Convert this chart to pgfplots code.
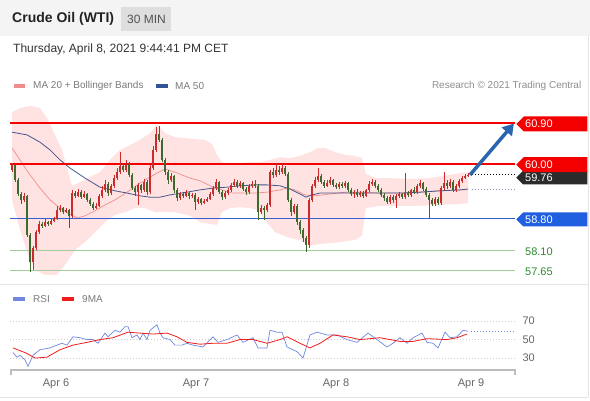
\documentclass[border=0pt]{standalone}
\usepackage{fontspec}
\setmainfont{Liberation Sans}
\usepackage{pgfplots}
\pgfplotsset{compat=1.18}
\usepackage{pgfplotstable}
\usetikzlibrary{shapes.symbols,arrows.meta}
\definecolor{hdrgray}{HTML}{F4F4F4}
\definecolor{boxgray}{HTML}{DEDEDE}
\definecolor{titlec}{HTML}{222222}
\definecolor{datec}{HTML}{333333}
\definecolor{legtext}{HTML}{7A7A7A}
\definecolor{bandpink}{HTML}{FFE3E3}
\definecolor{ma20c}{HTML}{F08C8C}
\definecolor{ma50c}{HTML}{45568C}
\definecolor{ma50leg}{HTML}{2F5597}
\definecolor{upred}{HTML}{CC2B2B}
\definecolor{dngreen}{HTML}{3D6B2F}
\definecolor{lvlred}{HTML}{F50000}
\definecolor{lvlblue}{HTML}{3A5FD0}
\definecolor{tagblue}{HTML}{1F5FE0}
\definecolor{lvlgreen}{HTML}{A3CB9C}
\definecolor{txtgreen}{HTML}{2E8B2E}
\definecolor{tagdark}{HTML}{2B2B2B}
\definecolor{arrowblue}{HTML}{2A65AF}
\definecolor{rsic}{HTML}{7088E0}
\definecolor{mac}{HTML}{F21C1C}
\definecolor{gridc}{HTML}{D2CCCC}
\definecolor{tickc}{HTML}{666666}
\definecolor{axisc}{HTML}{BDBDBD}
\definecolor{borderc}{HTML}{E4E4E4}
\definecolor{dotma}{HTML}{8A94B8}
\newcommand{\fs}[1]{\fontsize{#1}{#1}\selectfont}

\pgfplotstableread{
i o h l c
0 59.87 60.02 59.82 59.98
1 59.98 60.00 59.60 59.65
2 59.65 59.69 59.30 59.34
3 59.34 59.38 59.12 59.21
4 59.21 59.36 59.16 59.30
5 59.30 59.32 58.39 58.44
6 58.44 58.48 57.62 57.84
7 57.84 58.20 57.67 58.15
8 58.15 58.55 58.11 58.50
9 58.50 58.75 58.46 58.68
10 58.68 58.72 58.59 58.64
11 58.64 58.79 58.61 58.72
12 58.72 58.75 58.64 58.68
13 58.68 58.79 58.66 58.75
14 58.75 58.83 58.72 58.79
15 58.79 59.08 58.77 58.99
16 58.99 59.10 58.94 59.03
17 59.03 59.05 58.90 58.94
18 58.94 59.03 58.92 58.99
19 58.99 59.01 58.59 58.86
20 58.86 59.43 58.81 59.36
21 59.36 59.41 59.25 59.30
22 59.30 59.45 59.27 59.38
23 59.38 59.43 59.23 59.27
24 59.27 59.41 59.25 59.34
25 59.34 59.36 59.16 59.21
26 59.21 59.25 59.08 59.12
27 59.12 59.16 58.99 59.03
28 59.03 59.14 59.01 59.08
29 59.08 59.34 59.05 59.30
30 59.30 59.52 59.25 59.43
31 59.43 59.65 59.38 59.56
32 59.56 59.60 59.30 59.36
33 59.36 59.56 59.32 59.52
34 59.52 59.76 59.47 59.69
35 59.69 59.91 59.65 59.82
36 59.82 60.26 59.78 59.96
37 59.96 60.02 59.82 59.87
38 59.87 60.09 59.82 60.00
39 60.00 60.04 59.71 59.76
40 59.76 59.80 59.43 59.47
41 59.47 59.52 59.30 59.38
42 59.38 59.58 59.10 59.54
43 59.54 59.56 59.36 59.43
44 59.43 59.67 59.38 59.60
45 59.60 59.65 59.32 59.38
46 59.38 59.98 59.34 59.91
47 59.91 60.40 59.87 60.31
48 60.31 60.81 60.26 60.66
49 60.66 60.84 60.48 60.53
50 60.53 60.57 60.04 60.09
51 60.09 60.13 59.76 59.82
52 59.82 59.87 59.56 59.65
53 59.65 59.80 59.60 59.74
54 59.74 59.76 59.36 59.43
55 59.43 59.47 59.19 59.25
56 59.25 59.38 59.21 59.34
57 59.34 59.38 59.25 59.30
58 59.30 59.43 59.27 59.36
59 59.36 59.38 59.23 59.30
60 59.30 59.36 59.25 59.32
61 59.32 59.36 58.99 59.16
62 59.16 59.27 59.12 59.23
63 59.23 59.25 59.10 59.14
64 59.14 59.23 59.12 59.19
65 59.19 59.27 59.16 59.23
66 59.23 59.38 59.21 59.34
67 59.34 59.52 59.30 59.47
68 59.47 59.67 59.43 59.60
69 59.60 59.63 59.34 59.38
70 59.38 59.43 59.21 59.27
71 59.27 59.41 59.23 59.36
72 59.36 59.47 59.32 59.43
73 59.43 59.58 59.38 59.54
74 59.54 59.67 59.49 59.60
75 59.60 59.65 59.47 59.52
76 59.52 59.63 59.47 59.58
77 59.58 59.60 59.41 59.45
78 59.45 59.49 59.32 59.38
79 59.38 59.56 59.34 59.52
80 59.52 59.63 59.47 59.56
81 59.56 59.65 59.47 59.52
82 59.52 59.56 58.77 58.94
83 58.94 59.10 58.90 59.03
84 59.03 59.08 58.77 58.99
85 58.99 59.14 58.94 59.10
86 59.10 59.87 59.05 59.82
87 59.82 59.91 59.69 59.76
88 59.76 60.02 59.71 59.87
89 59.87 59.96 59.76 59.82
90 59.82 60.00 59.78 59.91
91 59.91 59.96 59.74 59.78
92 59.78 59.82 59.16 59.21
93 59.21 59.25 58.86 58.94
94 58.94 59.12 58.90 59.08
95 59.08 59.12 58.66 58.72
96 58.72 58.77 58.46 58.55
97 58.55 58.59 58.28 58.37
98 58.37 58.42 58.06 58.22
99 58.22 59.25 58.15 59.21
100 59.21 59.56 59.16 59.52
101 59.52 59.71 59.47 59.65
102 59.65 59.91 59.60 59.74
103 59.74 59.78 59.56 59.60
104 59.60 59.65 59.47 59.52
105 59.52 59.65 59.49 59.58
106 59.58 59.71 59.54 59.65
107 59.65 59.67 59.49 59.54
108 59.54 59.58 59.45 59.49
109 59.49 59.60 59.45 59.56
110 59.56 59.60 59.47 59.52
111 59.52 59.63 59.47 59.58
112 59.58 59.60 59.38 59.43
113 59.43 59.47 59.30 59.34
114 59.34 59.43 59.25 59.38
115 59.38 59.45 59.27 59.32
116 59.32 59.41 59.27 59.36
117 59.36 59.41 59.25 59.30
118 59.30 59.45 59.27 59.43
119 59.43 59.63 59.38 59.56
120 59.56 59.67 59.52 59.60
121 59.60 59.65 59.47 59.52
122 59.52 59.56 59.38 59.43
123 59.43 59.47 59.27 59.32
124 59.32 59.36 59.19 59.25
125 59.25 59.30 59.12 59.16
126 59.16 59.32 59.12 59.27
127 59.27 59.32 59.14 59.21
128 59.21 59.34 59.03 59.30
129 59.30 59.38 59.25 59.34
130 59.34 59.36 59.23 59.27
131 59.27 59.80 59.23 59.36
132 59.36 59.41 59.27 59.32
133 59.32 59.45 59.27 59.43
134 59.43 59.49 59.34 59.38
135 59.38 59.56 59.34 59.52
136 59.52 59.65 59.47 59.58
137 59.58 59.60 59.41 59.45
138 59.45 59.49 59.27 59.32
139 59.32 59.36 58.81 59.21
140 59.21 59.25 59.08 59.12
141 59.12 59.27 59.08 59.23
142 59.23 59.27 59.10 59.14
143 59.14 59.52 59.10 59.47
144 59.47 59.82 59.43 59.58
145 59.58 59.65 59.45 59.52
146 59.52 59.67 59.47 59.60
147 59.60 59.65 59.38 59.43
148 59.43 59.56 59.38 59.52
149 59.52 59.67 59.47 59.63
150 59.63 59.74 59.58 59.69
151 59.69 59.78 59.67 59.74
152 59.74 59.80 59.71 59.76
}\candles

\begin{document}
\begin{tikzpicture}[x=1pt,y=1pt]
\path[use as bounding box] (0,0) rectangle (590,400);
\fill[white] (0,0) rectangle (590,400);
\fill[hdrgray] (0,364) rectangle (590,400);
\fill[boxgray] (121,369) rectangle (171,393);
\node[anchor=west, inner sep=0pt, font=\fs{14}\bfseries, text=titlec] at (12,381.5) {Crude Oil (WTI)};
\node[inner sep=0pt, font=\fs{12}, text=datec!85] at (146.5,381) {30 MIN};
\node[anchor=west, inner sep=0pt, font=\fs{12}, text=datec] at (13,351) {Thursday, April 8, 2021 9:44:41 PM CET};
% legends
\fill[ma20c] (14,311.8) rectangle (25,316.3);
\node[anchor=west, inner sep=0pt, font=\fs{10}, text=legtext] at (33,314) {MA 20 + Bollinger Bands};
\fill[ma50leg] (156,311.8) rectangle (168,316.3);
\node[anchor=west, inner sep=0pt, font=\fs{10}, text=legtext] at (175,314) {MA 50};
\node[anchor=east, inner sep=0pt, font=\fs{10}, text=legtext!85] at (581.5,314) {Research © 2021 Trading Central};
% borders
\draw[borderc, line width=0.8pt] (0,116) -- (588,116);
\draw[borderc, line width=0.8pt] (588,3) -- (588,364);
\draw[borderc, line width=0.8pt] (0,3) -- (588,3);
% RSI legend
\fill[rsic] (13,99) rectangle (25,103);
\node[anchor=west, inner sep=0pt, font=\fs{10}, text=legtext] at (33,101) {RSI};
\fill[mac] (62,99) rectangle (74,103);
\node[anchor=west, inner sep=0pt, font=\fs{10}, text=legtext] at (82,101) {9MA};

\begin{axis}[at={(10pt,120.1pt)}, anchor=south west, scale only axis,
  width=505pt, height=175pt, xmin=-0.667, xmax=167.667, ymin=57.45, ymax=61.30,
  hide axis, clip=false]
\addplot[fill=bandpink, draw=none, forget plot] coordinates {
(0,61.14) (2.67,61.23) (6,61.28) (9.33,61.23) (11.67,61.01) (14.33,60.64) (16.67,60.31) (18.33,59.91) (20,59.52) (22,59.58) (24.33,59.65) (26.67,59.74) (29.33,59.82) (32.67,60.09) (36,60.31) (39.33,60.42) (42.67,60.53) (46,60.68) (48.33,60.86) (51,60.68) (54.33,60.59) (57.67,60.57) (61,60.55) (64.33,60.53) (66.67,60.44) (68.33,60.20) (70,60.04) (72.67,60.00) (76,60.02) (79.33,60.04) (82.67,60.04) (86,60.09) (89.33,60.15) (92.67,60.13) (96,60.18) (99.33,60.26) (102,60.35) (104.33,60.35) (107.67,60.26) (111,60.20) (114.33,60.18) (116.67,60.13) (118,59.78) (121,59.69) (126,59.69) (132.67,59.67) (139.33,59.69) (146,59.76) (149.33,59.80) (152,59.82)
(152,59.14) (149.33,59.12) (142.67,59.10) (136,59.08) (129.33,59.08) (122.67,59.08) (118,59.03) (116.67,58.42) (114.33,58.33) (109.33,58.28) (102.67,58.24) (99.33,58.20) (96,58.33) (92.67,58.37) (87.67,58.50) (84.33,58.77) (82,58.99) (79.33,59.03) (76,59.05) (72.67,59.03) (70,58.94) (68.33,58.66) (66,58.68) (62.67,58.72) (59.33,58.86) (54.33,58.94) (51,58.94) (47.67,58.94) (44.33,59.03) (41,59.03) (37.67,58.94) (34.33,58.88) (31,58.72) (27.67,58.50) (24.33,58.28) (21,58.11) (17.67,57.78) (15,57.56) (11,57.56) (7.67,57.67) (5.33,58.00) (2.67,58.55) (0,59.21)
} -- cycle;
\addplot[ma20c, line width=0.7pt] coordinates {
(0,60.35) (2.67,60.09) (6,59.76) (9.33,59.47) (12.67,59.21) (16,59.03) (19.33,58.90) (21.67,58.81) (24.33,58.86) (27.67,58.97) (31,59.10) (34.33,59.21) (38.33,59.38) (42.67,59.58) (46,59.71) (48.33,59.80) (51,59.89) (54.33,59.82) (59.33,59.69) (62.67,59.63) (67,59.49) (71,59.41) (73.67,59.36) (77.67,59.36) (81,59.36) (85,59.38) (89.33,59.43) (91.67,59.47) (94.33,59.43) (97.67,59.32) (101,59.30) (106,59.34) (111,59.38) (116,59.38) (122.67,59.36) (129.33,59.36) (136,59.38) (142.67,59.41) (149.33,59.43) (152,59.43)};
\addplot[ma50c, line width=0.8pt] coordinates {
(0,60.70) (5,60.64) (9.33,60.48) (12.67,60.31) (16,60.09) (19.33,59.91) (24.33,59.69) (29.33,59.49) (34.33,59.41) (38.33,59.36) (42.67,59.30) (46,59.27) (49.33,59.27) (52.67,59.32) (58.33,59.38) (62.67,59.43) (67,59.47) (71.67,59.49) (76,59.52) (81,59.54) (85,59.54) (89.33,59.52) (92.67,59.45) (96,59.34) (98,59.27) (100,59.32) (102.67,59.36) (109.33,59.36) (116,59.36) (122.67,59.36) (129.33,59.36) (136,59.38) (142.67,59.41) (149.33,59.43) (152,59.45)};
\addplot[lvlred, line width=2pt] coordinates {(-0.667,60.90) (167.667,60.90)};
\addplot[lvlred, line width=2pt] coordinates {(-0.667,60.00) (167.667,60.00)};
\addplot[lvlblue, line width=1pt] coordinates {(-0.667,58.80) (167.667,58.80)};
\addplot[lvlgreen, line width=0.8pt] coordinates {(-0.667,58.10) (167.667,58.10)};
\addplot[lvlgreen, line width=0.8pt] coordinates {(-0.667,57.65) (167.667,57.65)};
% candles: wicks
\addplot[upred, draw=none, mark=none, restrict expr to domain={\thisrow{c}-\thisrow{o}}{0:10},
  error bars/.cd, y dir=both, y explicit, error mark=none,
  error bar style={line width=0.8pt, solid, upred}]
  table[x=i, y expr={(\thisrow{h}+\thisrow{l})/2}, y error expr={(\thisrow{h}-\thisrow{l})/2}] {\candles};
\addplot[dngreen, draw=none, mark=none, restrict expr to domain={\thisrow{c}-\thisrow{o}}{-10:-0.0001},
  error bars/.cd, y dir=both, y explicit, error mark=none,
  error bar style={line width=0.8pt, solid, dngreen}]
  table[x=i, y expr={(\thisrow{h}+\thisrow{l})/2}, y error expr={(\thisrow{h}-\thisrow{l})/2}] {\candles};
% candles: bodies
\addplot[upred, draw=none, mark=none, restrict expr to domain={\thisrow{c}-\thisrow{o}}{0:10},
  error bars/.cd, y dir=both, y explicit, error mark=none,
  error bar style={line width=2pt, solid, upred}]
  table[x=i, y expr={(\thisrow{o}+\thisrow{c})/2}, y error expr={max(abs(\thisrow{c}-\thisrow{o})/2,0.006)}] {\candles};
\addplot[dngreen, draw=none, mark=none, restrict expr to domain={\thisrow{c}-\thisrow{o}}{-10:-0.0001},
  error bars/.cd, y dir=both, y explicit, error mark=none,
  error bar style={line width=2pt, solid, dngreen}]
  table[x=i, y expr={(\thisrow{o}+\thisrow{c})/2}, y error expr={max(abs(\thisrow{c}-\thisrow{o})/2,0.006)}] {\candles};
% dotted projections
\addplot[black, line width=0.8pt, dash pattern=on 1pt off 2pt] coordinates {(153.3,59.76) (167.667,59.76)};
\addplot[dotma, line width=0.8pt, dash pattern=on 1pt off 2pt] coordinates {(153.3,59.45) (167.667,59.45)};
% arrow
\draw[arrowblue, line width=3.5pt, -{Triangle[length=11pt,width=13pt]}] (axis cs:152.67,59.76) -- (axis cs:167.3,60.89);
% tags
\node[signal, signal to=west, signal pointer angle=90, fill=tagdark, minimum width=71pt, minimum height=13.5pt, inner sep=0pt, anchor=west] at (axis cs:168,59.70) {};
\node[anchor=west, inner sep=0pt, text=white, font=\fs{11}, xshift=9pt] at (axis cs:168,59.70) {59.76};
\node[signal, signal to=west, signal pointer angle=90, fill=lvlred, minimum width=71pt, minimum height=15pt, inner sep=0pt, anchor=west] at (axis cs:168,59.985) {};
\node[anchor=west, inner sep=0pt, text=white, font=\fs{11}, xshift=9pt] at (axis cs:168,59.985) {60.00};
\node[signal, signal to=west, signal pointer angle=90, fill=lvlred, minimum width=71pt, minimum height=15pt, inner sep=0pt, anchor=west] at (axis cs:168,60.88) {};
\node[anchor=west, inner sep=0pt, text=white, font=\fs{11}, xshift=9pt] at (axis cs:168,60.88) {60.90};
\node[signal, signal to=west, signal pointer angle=90, fill=tagblue, minimum width=71pt, minimum height=14pt, inner sep=0pt, anchor=west] at (axis cs:168,58.78) {};
\node[anchor=west, inner sep=0pt, text=white, font=\fs{11}, xshift=9pt] at (axis cs:168,58.78) {58.80};
\node[anchor=west, inner sep=0pt, text=txtgreen, font=\fs{11}, xshift=9pt] at (axis cs:168,58.07) {58.10};
\node[anchor=west, inner sep=0pt, text=txtgreen, font=\fs{11}, xshift=9pt] at (axis cs:168,57.63) {57.65};
\end{axis}

\begin{axis}[at={(10pt,29.9pt)}, anchor=south west, scale only axis,
  width=505pt, height=60.125pt, xmin=-0.667, xmax=167.667, ymin=17, ymax=82,
  axis line style={draw=none}, tick style={draw=none},
  ytick={30,50,70}, yticklabels={30,50,70}, yticklabel pos=right,
  ymajorgrids, grid style={gridc, line width=0.8pt, dash pattern=on 1pt off 2pt},
  xtick={14.67,61.33,108,153}, xticklabels={Apr 6,Apr 7,Apr 8,Apr 9},
  /pgf/number format/assume math mode=true,
  tick label style={font=\fs{11}, text=tickc},
  yticklabel style={xshift=4pt}, xticklabel style={yshift=-5pt}, clip=false]
\addplot[rsic, line width=0.7pt] coordinates {
(0.33,36) (1.67,31) (2.67,33) (4.33,28) (5.33,21) (7,33) (9.33,39) (12.67,41) (15,44) (16.67,46) (18.33,44) (20.33,53) (22.67,52) (25,50) (27,50) (28.67,46) (31,57) (32,53) (34.33,60) (36,58) (37.67,64) (38.67,64) (40,52) (41.67,55) (42.67,50) (43.67,57) (45,50) (46,60) (48.33,66) (49.33,57) (50.33,52) (52.67,50) (54.33,44) (56.67,44) (58.33,46) (60.33,44) (63.67,42) (67,53) (68.67,47) (71.67,50) (75,55) (77,47) (80.33,52) (82,41) (85,41) (86,60) (88.33,58) (90,58) (91.67,42) (95,37) (97,30) (99.33,55) (101.67,58) (105,55) (108.33,55) (111.67,50) (115,47) (118.67,57) (121.67,50) (125,42) (127,46) (129.33,52) (131.67,46) (133.67,52) (136.67,57) (138.33,47) (140.33,46) (142,41) (144.33,58) (146,52) (148.33,53) (150.33,60) (152,59)};
\addplot[mac, line width=0.8pt] coordinates {
(0.33,41) (5,35) (7.67,30) (11.67,31) (16,39) (20.33,44) (25,47) (29.33,50) (33.67,52) (38.67,58) (42.67,57) (47,56) (51.67,57) (55,53) (58.33,47) (62.67,45) (67,46) (71.67,46) (76,50) (80.33,50) (85,46) (89.33,50) (91.67,53) (96,46) (99.33,41) (102.67,46) (107,55) (111.67,53) (116,50) (122.67,52) (129.33,48) (133.67,48) (138.33,51) (145,50) (148.33,52) (151.67,56)};
\addplot[rsic, line width=0.8pt, dash pattern=on 1pt off 2pt] coordinates {(153,59) (167.667,59)};
\draw[axisc, line width=1.5pt] (rel axis cs:0.002,0) ++(0pt,-5pt) -- ++(0pt,5pt) -- (rel axis cs:1,0) -- ++(0pt,-5pt);
\end{axis}
\end{tikzpicture}
\end{document}
